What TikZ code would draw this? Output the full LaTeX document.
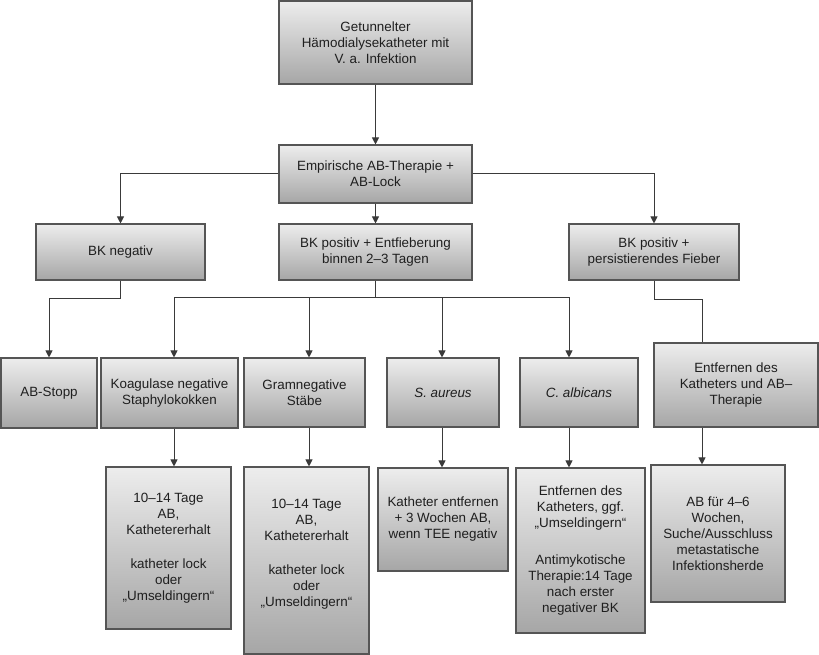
\documentclass[tikz,border=0pt]{standalone}
\usepackage{fontspec}
\setmainfont{Liberation Sans}
\usetikzlibrary{arrows.meta}
\definecolor{boxtop}{HTML}{EDEDED}
\definecolor{boxbot}{HTML}{A6A6A6}
\definecolor{edge}{HTML}{555555}
\definecolor{wire}{HTML}{3A3A3A}
\tikzset{
  box/.style={draw=edge, line width=1.1pt, top color=boxtop, bottom color=boxbot,
    align=center, inner sep=2pt, font=\fontsize{13.4}{16}\selectfont, text=black!88},
  wirel/.style={draw=wire, line width=1pt},
  arr/.style={wirel, -{Triangle[length=7pt,width=7pt]}},
}
\begin{document}
\begin{tikzpicture}[x=1pt,y=-1pt]
\useasboundingbox (0,0) rectangle (819,655);
% column coordinates
\coordinate (c1) at (174,0);
\coordinate (c2) at (309,0);
\coordinate (c3) at (442,0);
\coordinate (c4) at (569,0);
\coordinate (c5) at (702,0);
\coordinate (busL) at (174,297);
\coordinate (busR) at (570,297);
% boxes
\node[box, minimum width=193pt, minimum height=83pt] (top) at (375.5,42.5)
  {Getunnelter\\Hämodialysekatheter mit\\V. a. Infektion};
\node[box, minimum width=193pt, minimum height=58pt] (emp) at (375.5,174)
  {Empirische AB-Therapie +\\AB-Lock};
\node[box, minimum width=193pt, minimum height=56pt] (bkpos) at (375.5,252)
  {BK positiv + Entfieberung\\binnen 2–3 Tagen};
\node[box, minimum width=169pt, minimum height=56pt] (bkneg) at (120.5,252)
  {BK negativ};
\node[box, minimum width=170pt, minimum height=56pt] (bkfieb) at (654,252)
  {BK positiv +\\persistierendes Fieber};
\node[box, minimum width=96pt, minimum height=70pt] (abstopp) at (49,393)
  {AB-Stopp};
\node[box, minimum width=137pt, minimum height=70pt] (koag) at (169.5,393)
  {Koagulase negative\\Staphylokokken};
\node[box, minimum width=121pt, minimum height=69pt] (gram) at (304.5,392.5)
  {Gramnegative\\Stäbe};
\node[box, minimum width=112pt, minimum height=69pt] (saur) at (443,392.5)
  {\textit{S. aureus}};
\node[box, minimum width=118pt, minimum height=69pt] (calb) at (579,392.5)
  {\textit{C. albicans}};
\node[box, minimum width=164pt, minimum height=84pt] (entf) at (736,385)
  {Entfernen des\\Katheters und AB–\\Therapie};
\node[box, minimum width=125pt, minimum height=162pt] (r1) at (168.5,548)
  {10–14 Tage\\AB,\\Kathetererhalt\\[18pt]katheter lock\\oder\\„Umseldingern“};
\node[box, minimum width=125pt, minimum height=187pt] (r2) at (306.5,560.5)
  {10–14 Tage\\AB,\\Kathetererhalt\\[18pt]katheter lock\\oder\\„Umseldingern“\\\mbox{}};
\node[box, minimum width=130pt, minimum height=103pt] (r3) at (443,519.5)
  {Katheter entfernen\\+ 3 Wochen AB,\\wenn TEE negativ};
\node[box, minimum width=129pt, minimum height=165pt] (r4) at (580.5,550.5)
  {Entfernen des\\Katheters, ggf.\\„Umseldingern“\\[21pt]Antimykotische\\Therapie:14 Tage\\nach erster\\negativer BK};
\node[box, minimum width=134pt, minimum height=137pt] (r5) at (718,533.5)
  {AB für 4–6\\Wochen,\\Suche/Ausschluss\\metastatische\\Infektionsherde};
% connectors
\draw[arr] (top.south) -- (emp.north);
\draw[arr] (emp.south) -- (bkpos.north);
\draw[arr] (emp.west) -| (bkneg.north);
\draw[arr] (emp.east) -| (bkfieb.north);
\draw[arr] (bkneg.south) -- ++(0,18) -| (abstopp.north);
\draw[wirel] (bkfieb.south) -- ++(0,19) -| (entf.north -| c5);
\draw[wirel] (bkpos.south) -- (bkpos.south |- busL);
\draw[wirel] (busL) -- (busR);
\draw[arr] (busL) -- (koag.north -| c1);
\draw[arr] (busL -| c2) -- (gram.north -| c2);
\draw[arr] (busL -| c3) -- (saur.north -| c3);
\draw[arr] (busL -| c4) -- (calb.north -| c4);
\draw[arr] (koag.south -| c1) -- (r1.north -| c1);
\draw[arr] (gram.south -| c2) -- (r2.north -| c2);
\draw[arr] (saur.south -| c3) -- (r3.north -| c3);
\draw[arr] (calb.south -| c4) -- (r4.north -| c4);
\draw[arr] (entf.south -| c5) -- (r5.north -| c5);
\end{tikzpicture}
\end{document}
